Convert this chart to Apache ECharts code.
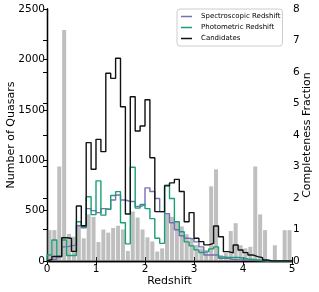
<!DOCTYPE html>
<html>
<head>
<meta charset="utf-8">
<script src="https://cdn.jsdelivr.net/npm/echarts@6/dist/echarts.min.js"></script>
<style>html,body{margin:0;padding:0;background:#fff;}#c{width:319px;height:292px;}</style>
</head>
<body>
<div id="c"></div>
<script>
// Bin edges (redshift)
const binEdges = [0.0,0.1,0.2,0.3,0.4,0.5,0.6,0.7,0.8,0.9,1.0,1.1,1.2,1.3,1.4,1.5,1.6,1.7,1.8,1.9,2.0,
  2.1,2.2,2.3,2.4,2.5,2.6,2.7,2.8,2.9,3.0,3.1,3.2,3.3,3.4,3.5,3.6,3.7,3.8,3.9,4.0,
  4.1,4.2,4.3,4.4,4.5,4.6,4.7,4.8,4.9,5.0];
const xTicks = [0,1,2,3,4,5];
const leftTicks = [0,500,1000,1500,2000,2500];
const rightTicks = [0,1,2,3,4,5,6,7,8];

// Number of quasars per bin
const spectroscopic = [15,15,45,140,150,160,350,330,520,500,480,520,510,605,655,605,590,590,540,556,
  725,690,620,490,470,380,310,250,225,220,190,140,60,60,60,26,26,15,12,10,
  8,6,5,3,0,0,0,0,0,0];
const photometric = [60,208,45,208,55,55,390,340,638,460,795,455,515,650,688,380,170,930,525,560,
  520,420,225,175,752,620,390,290,190,150,110,85,93,120,140,40,35,35,35,30,
  20,15,10,5,0,0,0,0,0,0];
const candidates = [15,45,45,230,225,95,545,350,1174,910,1207,1085,1862,1812,2011,1530,466,1630,1290,1340,
  1600,1025,490,490,745,775,810,690,390,480,225,192,160,175,347,241,93,80,159,109,
  83,60,43,33,10,0,0,0,0,0];
// Completeness fraction per bin (right axis)
const completeness = [0.98,0.98,3.0,7.33,0.86,0.77,1.15,0.72,1.48,1.4,0.6,1.0,0.9,1.05,1.12,1.0,0.32,1.57,1.38,1.0,
  0.75,0.62,0.3,0.4,1.5,1.4,1.25,1.1,0.85,0.72,0.51,0.4,0.35,2.37,2.91,0.19,0.25,0.95,1.2,0.5,
  0.4,0.45,3.0,1.48,0.98,0,0.5,0,0.98,0.98];

function stepData(vals){
  const d = [[binEdges[0],0]];
  vals.forEach((v,k)=>d.push([binEdges[k],v]));
  d.push([binEdges[binEdges.length-1], vals[vals.length-1]]);
  d.push([binEdges[binEdges.length-1], 0]);
  return d;
}
const barData = completeness.map((v,k)=>[(binEdges[k]+binEdges[k+1])/2, v]);

const font = 'DejaVu Sans';
const axisLine = {show:true, lineStyle:{color:'#000', width:1.3}};
const chart = echarts.init(document.getElementById('c'), null, {renderer:'canvas'});
chart.setOption({
  animation:false,
  textStyle:{fontFamily:font},
  grid:{left:47, right:27, top:9, bottom:31, containLabel:false, outerBoundsMode:'none'},
  legend:{
    data:['Spectroscopic Redshift','Photometric Redshift','Candidates'],
    orient:'vertical', left:177, top:9,
    icon:'rect', itemWidth:11, itemHeight:1.5, itemGap:2,
    padding:[3,2,3,4],
    borderColor:'#cccccc', borderWidth:1, borderRadius:3, backgroundColor:'#fff',
    textStyle:{fontFamily:font, fontSize:7, color:'#000', lineHeight:9, padding:[0,0,0,4]}
  },
  xAxis:[{
    type:'value', min:0, max:5, interval:1,
    name:'Redshift', nameLocation:'middle', nameGap:15, nameMoveOverlap:false,
    nameTextStyle:{fontFamily:font, fontSize:11, color:'#000'},
    axisLine:axisLine,
    axisTick:{show:true, inside:true, length:4, lineStyle:{color:'#000'}},
    axisLabel:{fontFamily:font, fontSize:10.5, color:'#000', margin:3,
      formatter:v=>xTicks.includes(v)?String(v):''},
    splitLine:{show:false}
  },{
    type:'value', min:0, max:5, interval:1, position:'top',
    axisLine:axisLine,
    axisTick:{show:true, inside:true, length:4, lineStyle:{color:'#000'}},
    axisLabel:{show:false}, splitLine:{show:false}
  }],
  yAxis:[{
    type:'value', min:0, max:2500, interval:500, position:'left',
    name:'Number of Quasars', nameLocation:'middle', nameGap:30, nameRotate:90, nameMoveOverlap:false,
    nameTextStyle:{fontFamily:font, fontSize:11, color:'#000'},
    axisLine:axisLine,
    axisTick:{show:true, inside:false, length:3, lineStyle:{color:'#000'}},
    axisLabel:{fontFamily:font, fontSize:10.5, color:'#000', margin:2,
      formatter:v=>leftTicks.includes(v)?String(v):''},
    splitLine:{show:false}
  },{
    type:'value', min:0, max:8, interval:1, position:'right',
    name:'Completeness Fraction', nameLocation:'middle', nameGap:10, nameRotate:90, nameMoveOverlap:false,
    nameTextStyle:{fontFamily:font, fontSize:11, color:'#000'},
    axisLine:axisLine,
    axisTick:{show:true, inside:true, length:4, lineStyle:{color:'#000'}},
    axisLabel:{fontFamily:font, fontSize:10.5, color:'#000', margin:1,
      formatter:v=>rightTicks.includes(v)?String(v):''},
    splitLine:{show:false}
  }],
  series:[
    {name:'Completeness', type:'bar', xAxisIndex:0, yAxisIndex:1, data:barData,
      barWidth:4, itemStyle:{color:'rgba(128,128,128,0.5)'}, z:1, silent:true},
    {name:'Spectroscopic Redshift', type:'line', step:'end', data:stepData(spectroscopic),
      showSymbol:false, symbol:'none', color:'#7570b3', lineStyle:{width:1.4, color:'#7570b3'}, z:3},
    {name:'Photometric Redshift', type:'line', step:'end', data:stepData(photometric),
      showSymbol:false, symbol:'none', color:'#1b9e77', lineStyle:{width:1.4, color:'#1b9e77'}, z:4},
    {name:'Candidates', type:'line', step:'end', data:stepData(candidates),
      showSymbol:false, symbol:'none', color:'#111', lineStyle:{width:1.4, color:'#111'}, z:5}
  ]
});
</script>
</body>
</html>
